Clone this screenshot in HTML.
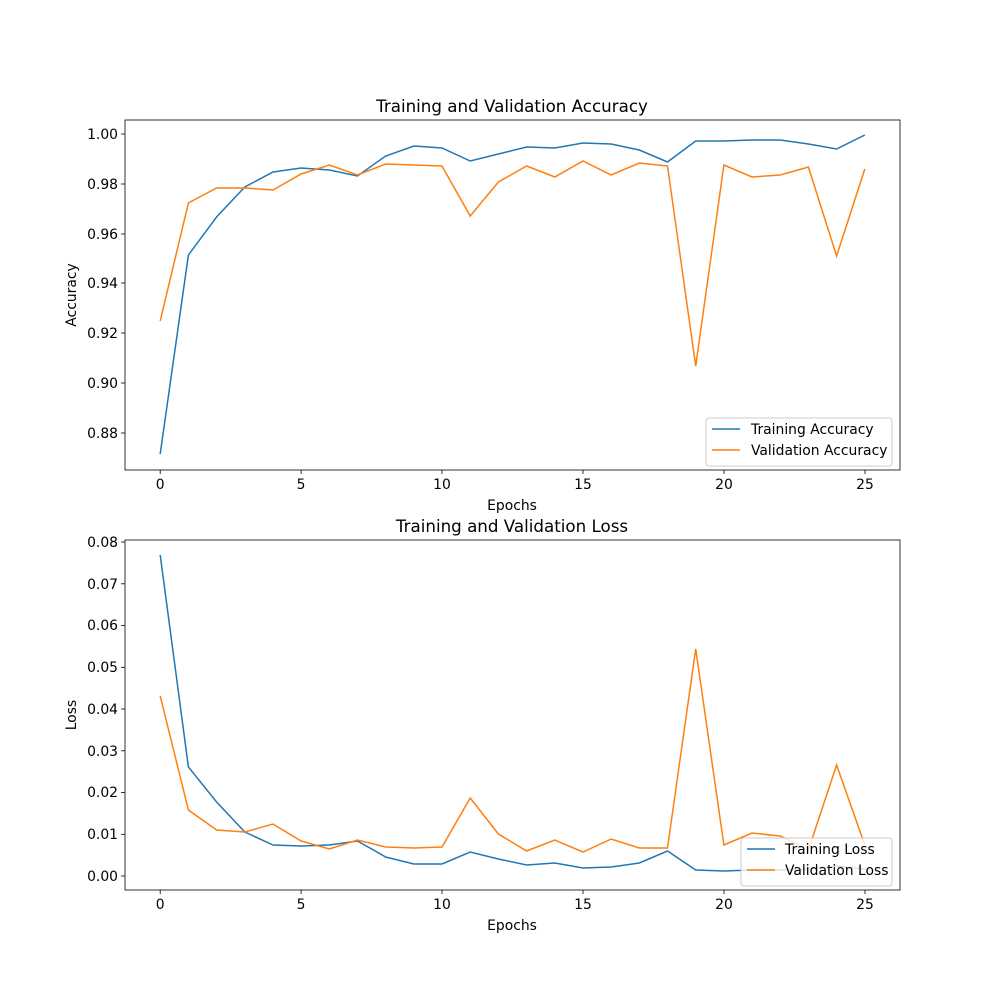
<!DOCTYPE html>
<html><head><meta charset="utf-8"><style>body{margin:0;background:#fff}svg{display:block}text{font-family:"DejaVu Sans","Liberation Sans",sans-serif;fill:#000}</style></head><body>
<svg width="1000" height="1000" viewBox="0 0 1000 1000" xmlns="http://www.w3.org/2000/svg">
<rect width="1000" height="1000" fill="#fff"/>
<g font-size="13.9">
<g stroke="#000" stroke-width="0.8">
<line x1="160.2" y1="470" x2="160.2" y2="474"/><line x1="301.1" y1="470" x2="301.1" y2="474"/><line x1="442" y1="470" x2="442" y2="474"/><line x1="583" y1="470" x2="583" y2="474"/><line x1="724" y1="470" x2="724" y2="474"/><line x1="865" y1="470" x2="865" y2="474"/>
<line x1="121" y1="134" x2="125" y2="134"/><line x1="121" y1="184" x2="125" y2="184"/><line x1="121" y1="234" x2="125" y2="234"/><line x1="121" y1="283" x2="125" y2="283"/><line x1="121" y1="333" x2="125" y2="333"/><line x1="121" y1="383" x2="125" y2="383"/><line x1="121" y1="433" x2="125" y2="433"/>
</g>
<g text-anchor="middle"><text x="160.2" y="489">0</text><text x="301.1" y="489">5</text><text x="442" y="489">10</text><text x="583" y="489">15</text><text x="724" y="489">20</text><text x="865" y="489">25</text></g>
<g text-anchor="end"><text x="118" y="139">1.00</text><text x="118" y="189">0.98</text><text x="118" y="239">0.96</text><text x="118" y="288">0.94</text><text x="118" y="338">0.92</text><text x="118" y="388">0.90</text><text x="118" y="438">0.88</text></g>
<text x="512" y="510" text-anchor="middle">Epochs</text>
<text transform="translate(76,295) rotate(-90)" text-anchor="middle">Accuracy</text>
<text x="512" y="112" text-anchor="middle" font-size="16.7">Training and Validation Accuracy</text>
<polyline fill="none" stroke="#1f77b4" stroke-width="1.5" points="160.2,454 188.4,255 216.6,217 244.8,187 273,172 301.1,168 329.3,170 357.5,176 385.7,156 413.9,146 442,148 470.2,161 498.4,154 526.6,147 554.8,148 583,143 611.1,144 639.3,150 667.5,162 695.7,141 723.9,141 752,140 780.2,140 808.4,144 836.6,149 864.8,135"/>
<polyline fill="none" stroke="#ff7f0e" stroke-width="1.5" points="160.2,321 188.4,203 216.6,188 244.8,188 273,190 301.1,174 329.3,165 357.5,175 385.7,164 413.9,165 442,166 470.2,216 498.4,182 526.6,166 554.8,177 583,161 611.1,175 639.3,163 667.5,166 695.7,366 723.9,165 752,177 780.2,175 808.4,167 836.6,256 864.8,169"/>
<rect x="125" y="120" width="775" height="350" fill="none" stroke="#000" stroke-width="0.8"/>
<rect x="706" y="418" width="186" height="48" rx="3" fill="#fff" fill-opacity="0.8" stroke="#ccc"/>
<line x1="712" y1="429" x2="740" y2="429" stroke="#1f77b4" stroke-width="1.5"/><text x="751" y="434">Training Accuracy</text>
<line x1="712" y1="450" x2="740" y2="450" stroke="#ff7f0e" stroke-width="1.5"/><text x="751" y="455">Validation Accuracy</text>
</g>
<g font-size="13.9">
<g stroke="#000" stroke-width="0.8">
<line x1="160.2" y1="890" x2="160.2" y2="894"/><line x1="301.1" y1="890" x2="301.1" y2="894"/><line x1="442" y1="890" x2="442" y2="894"/><line x1="583" y1="890" x2="583" y2="894"/><line x1="724" y1="890" x2="724" y2="894"/><line x1="865" y1="890" x2="865" y2="894"/>
<line x1="121" y1="876" x2="125" y2="876"/><line x1="121" y1="834.3" x2="125" y2="834.3"/><line x1="121" y1="792.5" x2="125" y2="792.5"/><line x1="121" y1="750.8" x2="125" y2="750.8"/><line x1="121" y1="709" x2="125" y2="709"/><line x1="121" y1="667.3" x2="125" y2="667.3"/><line x1="121" y1="625.5" x2="125" y2="625.5"/><line x1="121" y1="583.8" x2="125" y2="583.8"/><line x1="121" y1="542" x2="125" y2="542"/>
</g>
<g text-anchor="middle"><text x="160.2" y="909">0</text><text x="301.1" y="909">5</text><text x="442" y="909">10</text><text x="583" y="909">15</text><text x="724" y="909">20</text><text x="865" y="909">25</text></g>
<g text-anchor="end"><text x="118" y="881">0.00</text><text x="118" y="839">0.01</text><text x="118" y="797">0.02</text><text x="118" y="756">0.03</text><text x="118" y="714">0.04</text><text x="118" y="672">0.05</text><text x="118" y="630">0.06</text><text x="118" y="589">0.07</text><text x="118" y="547">0.08</text></g>
<text x="512" y="930" text-anchor="middle">Epochs</text>
<text transform="translate(76,715) rotate(-90)" text-anchor="middle">Loss</text>
<text x="512" y="532" text-anchor="middle" font-size="16.7">Training and Validation Loss</text>
<polyline fill="none" stroke="#1f77b4" stroke-width="1.5" points="160.2,555 188.4,767 216.6,802 244.8,832 273,845 301.1,846 329.3,845 357.5,841 385.7,857 413.9,864 442,864 470.2,852 498.4,859 526.6,865 554.8,863 583,868 611.1,867 639.3,863 667.5,851 695.7,870 723.9,871 752,870 780.2,870 808.4,869 836.6,866 864.8,869"/>
<polyline fill="none" stroke="#ff7f0e" stroke-width="1.5" points="160.2,696 188.4,810 216.6,830 244.8,832 273,824 301.1,841 329.3,849 357.5,840 385.7,847 413.9,848 442,847 470.2,798 498.4,834 526.6,851 554.8,840 583,852 611.1,839 639.3,848 667.5,848 695.7,649 723.9,845 752,833 780.2,836 808.4,850 836.6,765 864.8,845"/>
<rect x="125" y="540" width="775" height="350" fill="none" stroke="#000" stroke-width="0.8"/>
<rect x="741" y="838" width="151" height="48" rx="3" fill="#fff" fill-opacity="0.8" stroke="#ccc"/>
<line x1="747" y1="849" x2="775" y2="849" stroke="#1f77b4" stroke-width="1.5"/><text x="785" y="854">Training Loss</text>
<line x1="747" y1="870" x2="775" y2="870" stroke="#ff7f0e" stroke-width="1.5"/><text x="785" y="875">Validation Loss</text>
</g>
</svg>
</body></html>
